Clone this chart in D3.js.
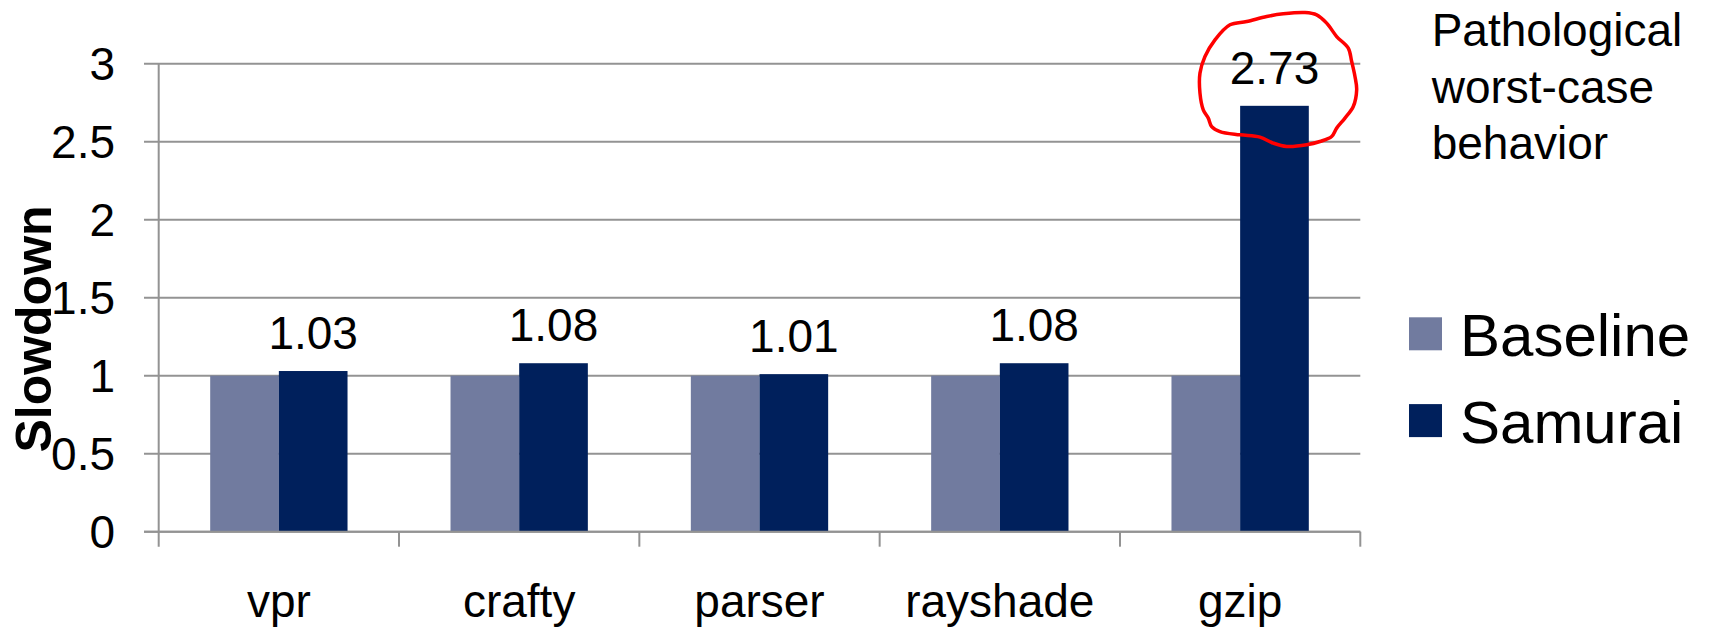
<!DOCTYPE html>
<html>
<head>
<meta charset="utf-8">
<script src="https://cdn.jsdelivr.net/npm/d3@7"></script>
<style>
  html, body { margin: 0; padding: 0; background: #fff; }
  svg { display: block; font-family: "Liberation Sans", Arial, sans-serif; }
</style>
</head>
<body>
<svg id="chart" width="1715" height="629"></svg>
<script>
// Benchmarks and measured slowdowns
const categories = ["vpr", "crafty", "parser", "rayshade", "gzip"];
const seriesNames = ["Baseline", "Samurai"];
const baselineValues = [1, 1, 1, 1, 1];
const samuraiValues = [1.03, 1.08, 1.01, 1.08, 2.73];
const samuraiLabels = ["1.03", "1.08", "1.01", "1.08", "2.73"];
const yTicks = [0, 0.5, 1, 1.5, 2, 2.5, 3];
const yTickLabels = ["0", "0.5", "1", "1.5", "2", "2.5", "3"];
const noteLines = ["Pathological", "worst-case", "behavior"];
const highlightIndex = 4;

const colors = { Baseline: "#717b9f", Samurai: "#00205c" };
const gridColor = "#939393";

const svg = d3.select("#chart");

const plotLeft = 158.7, plotRight = 1360.3;
const x0 = d3.scaleBand().domain(categories).range([plotLeft, plotRight]).padding(0);
const bw = x0.bandwidth();
const gapFrac = 0.75 / 3.5; // 150% gap width between groups
const x1 = d3.scaleBand().domain(seriesNames).range([bw * gapFrac, bw * (1 - gapFrac)]).padding(0);
const y = d3.scaleLinear().domain([0, 3]).range([531.7, 63.7]);

const rows = categories.map((c, i) => ({
  cat: c,
  values: [
    { key: "Baseline", value: baselineValues[i] },
    { key: "Samurai", value: samuraiValues[i] }
  ],
  label: samuraiLabels[i],
  samurai: samuraiValues[i]
}));

// Horizontal gridlines (extend left of the axis as ticks)
const grid = svg.append("g");
grid.selectAll("line").data(yTicks).join("line")
  .attr("x1", 144).attr("x2", plotRight)
  .attr("y1", d => y(d)).attr("y2", d => y(d))
  .attr("stroke", gridColor).attr("stroke-width", 2);

// Y tick labels
svg.append("g").selectAll("text").data(yTicks).join("text")
  .attr("x", 115).attr("y", d => y(d)).attr("dy", "0.36em")
  .attr("text-anchor", "end").attr("font-size", 46).attr("fill", "#000")
  .text((d, i) => yTickLabels[i]);

// Bars
const groups = svg.append("g").selectAll("g").data(rows).join("g")
  .attr("transform", d => `translate(${x0(d.cat)},0)`);
groups.selectAll("rect").data(d => d.values).join("rect")
  .attr("x", d => x1(d.key))
  .attr("width", x1.bandwidth())
  .attr("y", d => y(d.value))
  .attr("height", d => y(0) - y(d.value))
  .attr("fill", d => colors[d.key]);

// Y axis line
svg.append("line")
  .attr("x1", plotLeft).attr("x2", plotLeft)
  .attr("y1", y(3)).attr("y2", y(0) + 15)
  .attr("stroke", gridColor).attr("stroke-width", 2);

// X axis line and category boundary ticks
svg.append("line")
  .attr("x1", 144).attr("x2", plotRight)
  .attr("y1", y(0)).attr("y2", y(0))
  .attr("stroke", gridColor).attr("stroke-width", 2);
const boundaries = categories.map(c => x0(c)).concat([plotRight]);
svg.append("g").selectAll("line").data(boundaries.slice(1)).join("line")
  .attr("x1", d => d).attr("x2", d => d)
  .attr("y1", y(0)).attr("y2", y(0) + 15)
  .attr("stroke", gridColor).attr("stroke-width", 2);

// Category labels
svg.append("g").selectAll("text").data(categories).join("text")
  .attr("x", d => x0(d) + bw / 2).attr("y", 617)
  .attr("text-anchor", "middle").attr("font-size", 46).attr("fill", "#000")
  .text(d => d);

// Value labels over the Samurai bars
const labelX = d => x0(d.cat) + x1("Samurai") + x1.bandwidth() / 2;
const labelY = d => y(d.samurai) - 22;
svg.append("g").selectAll("text").data(rows).join("text")
  .attr("x", labelX).attr("y", labelY)
  .attr("text-anchor", "middle").attr("font-size", 46).attr("fill", "#000")
  .text(d => d.label);

// Y axis title
svg.append("text")
  .attr("transform", "translate(51,329) rotate(-90)")
  .attr("text-anchor", "middle").attr("font-size", 50).attr("font-weight", "bold")
  .attr("fill", "#000")
  .text("Slowdown");

// Hand-drawn loop around the worst-case value (offsets from the label centre)
const loopOffsets = [
  [-44.5, -42.5], [-27.8, -45.8], [-7.8, -50.8], [8.8, -53.5], [30.5, -54.8],
  [42.2, -52.5], [52.2, -44.2], [62.2, -30.8], [73.8, -19.2], [77.2, -5.8],
  [80.5, 9.2], [82.2, 22.5], [78.8, 39.2], [70.5, 50.8], [62.2, 60.8],
  [57.2, 69.2], [45.5, 74.2], [32.2, 77.5], [12.2, 79.2], [-1.2, 75.8],
  [-14.5, 69.8], [-34.5, 67.5], [-54.5, 64.2], [-62.8, 59.2], [-66.2, 50.8],
  [-71.2, 42.5], [-74.5, 25.8], [-74.5, 5.8], [-69.5, -10.8], [-59.5, -27.5]
];
const hl = rows[highlightIndex];
const cx = labelX(hl), cy = labelY(hl) - 16.5;
svg.append("path")
  .attr("d", d3.line().curve(d3.curveCatmullRomClosed)(loopOffsets.map(p => [cx + p[0], cy + p[1]])))
  .attr("fill", "none").attr("stroke", "#ff0000").attr("stroke-width", 3.5)
  .attr("stroke-linejoin", "round");

// Side note
svg.append("g").selectAll("text").data(noteLines).join("text")
  .attr("x", 1431.7).attr("y", (d, i) => 46 + i * 56.7)
  .attr("font-size", 46).attr("fill", "#000")
  .text(d => d);

// Legend
const legend = svg.append("g").selectAll("g").data(seriesNames).join("g")
  .attr("transform", (d, i) => `translate(1409,${317.3 + i * 86.8})`);
legend.append("rect").attr("width", 33).attr("height", 33).attr("fill", d => colors[d]);
legend.append("text").attr("x", 51).attr("y", 38.7)
  .attr("font-size", 60).attr("fill", "#000").text(d => d);
</script>
</body>
</html>
